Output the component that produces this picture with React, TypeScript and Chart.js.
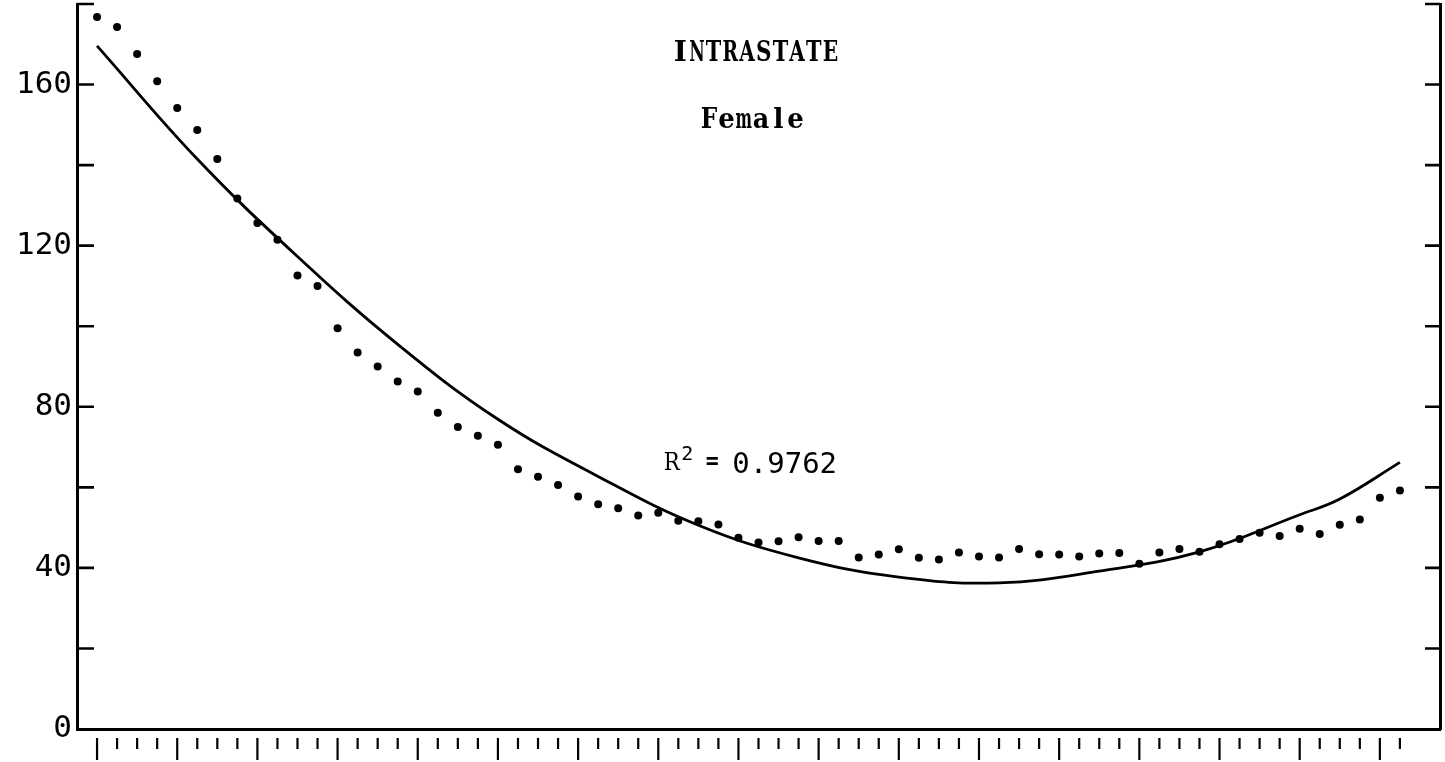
import React, { useEffect, useRef } from 'react';
import { Chart, registerables } from 'chart.js';

Chart.register(...registerables);

// Observed values, one per step along the horizontal axis (0..65)
const OBSERVED = [
  176.8, 174.3, 167.6, 160.8, 154.2, 148.7, 141.5, 131.7, 125.6, 121.5,
  112.6, 110.0, 99.5, 93.5, 90.0, 86.3, 83.8, 78.5, 75.0, 72.8,
  70.6, 64.5, 62.6, 60.6, 57.7, 55.8, 54.8, 53.0, 53.7, 51.7,
  51.6, 50.8, 47.5, 46.3, 46.6, 47.6, 46.7, 46.7, 42.6, 43.3,
  44.6, 42.5, 42.1, 43.8, 42.8, 42.6, 44.7, 43.4, 43.3, 42.8,
  43.6, 43.7, 41.0, 43.8, 44.7, 44.0, 45.9, 47.2, 48.7, 47.9,
  49.7, 48.4, 50.7, 52.0, 57.4, 59.2,
];

// Fitted regression curve, sampled along the same axis
const FIT_STEP = [0, 5, 10, 15, 20, 25, 30, 35, 40, 45, 50, 55, 60, 62, 65];
const FIT_VALUE = [169.6, 141.5, 117.3, 95.5, 76.9, 62.7, 50.6, 42.5, 37.7, 36.3, 39.2, 44.0, 53.2, 57.1, 66.2];

const Y_LABELS = [0, 40, 80, 120, 160];
const Y_MAX = 180;
const Y_STEP = 20;

const TITLE = 'INTRASTATE';
const SUBTITLE = 'Female';
const R_SQUARED = '0.9762';

const SLAB = '"DejaVu Serif", serif';
const GOTHIC = '"DejaVu Sans Mono", monospace';

// typewriter-style text: every character sits in a cell of the same width
function typed(
  ctx: CanvasRenderingContext2D,
  text: string,
  centerX: number,
  baseY: number,
  cell: number,
  maxGlyph: number,
  font: string,
) {
  ctx.save();
  ctx.font = font;
  ctx.textAlign = 'center';
  ctx.textBaseline = 'alphabetic';
  const startX = centerX - (text.length * cell) / 2;
  for (let i = 0; i < text.length; i++) {
    const ch = text[i];
    const w = ctx.measureText(ch).width;
    const k = Math.min(1, maxGlyph / w);
    ctx.save();
    ctx.translate(startX + cell * (i + 0.5), baseY);
    ctx.scale(k, 1);
    ctx.fillText(ch, 0, 0);
    ctx.restore();
  }
  ctx.restore();
}

const decorations = {
  id: 'decorations',
  afterDraw(chart: any) {
    const { ctx, chartArea } = chart;
    const { left, right, top, bottom } = chartArea;
    const xs = chart.scales.x;
    const ys = chart.scales.y;
    ctx.save();
    ctx.strokeStyle = '#000';
    ctx.fillStyle = '#000';

    // tick marks hanging below the horizontal axis, longer every fourth step
    ctx.lineWidth = 2.2;
    for (let i = 0; i < OBSERVED.length; i++) {
      const px = xs.getPixelForValue(i);
      const long = i % 4 === 0;
      ctx.beginPath();
      ctx.moveTo(px, bottom + 9);
      ctx.lineTo(px, bottom + (long ? 31 : 20));
      ctx.stroke();
    }

    // inward ticks on both vertical axes
    ctx.lineWidth = 2.6;
    for (let v = Y_STEP; v <= Y_MAX; v += Y_STEP) {
      const py = ys.getPixelForValue(v);
      ctx.beginPath();
      ctx.moveTo(left, py);
      ctx.lineTo(left + 17, py);
      ctx.moveTo(right - 15, py);
      ctx.lineTo(right, py);
      ctx.stroke();
    }

    // headings
    const cx = left + (right - left) * 0.4955;
    typed(ctx, TITLE, cx + 3, top + 57, 16.7, 15.5, `bold 28px ${SLAB}`);
    typed(ctx, SUBTITLE, cx, top + 124, 17.3, 16.5, `bold 27px ${SLAB}`);

    // coefficient of determination
    const rx = xs.getPixelForValue(28.25);
    const ry = ys.getPixelForValue(64.3);
    typed(ctx, 'R', rx + 8.5, ry, 17, 16, `25px ${SLAB}`);
    ctx.font = `20px ${GOTHIC}`;
    ctx.textAlign = 'left';
    ctx.fillText('2', rx + 18, ry - 10);
    typed(ctx, '=', rx + 49, ry - 1, 17, 15, `bold 25px ${SLAB}`);
    ctx.font = `29px ${GOTHIC}`;
    ctx.textAlign = 'left';
    ctx.fillText(R_SQUARED, rx + 69, ry + 3);

    ctx.restore();
  },
};

export default function App() {
  const canvasRef = useRef<HTMLCanvasElement | null>(null);

  useEffect(() => {
    const canvas = canvasRef.current;
    if (!canvas) return;
    const chart = new Chart(canvas, {
      type: 'scatter',
      data: {
        datasets: [
          {
            type: 'scatter',
            data: OBSERVED.map((y, i) => ({ x: i, y })),
            pointRadius: 4,
            pointHoverRadius: 4,
            pointBackgroundColor: '#000',
            pointBorderWidth: 0,
          },
          {
            type: 'line',
            data: FIT_STEP.map((x, k) => ({ x, y: FIT_VALUE[k] })),
            borderColor: '#000',
            borderWidth: 2.8,
            pointRadius: 0,
            tension: 0.4,
            fill: false,
          },
        ],
      } as any,
      options: {
        animation: false,
        responsive: false,
        maintainAspectRatio: false,
        events: [],
        layout: { padding: { top: 3, left: 0, right: 0, bottom: 0 } },
        plugins: {
          legend: { display: false },
          tooltip: { enabled: false },
          title: { display: false },
        },
        scales: {
          x: {
            type: 'linear',
            min: -1,
            max: 67,
            grid: { display: false, drawTicks: false },
            border: { display: true, color: '#000', width: 3 },
            ticks: { display: false },
            afterFit: (s: any) => {
              s.height = 33;
              s.paddingLeft = 0;
              s.paddingRight = 0;
            },
          },
          y: {
            position: 'left',
            min: 0,
            max: Y_MAX,
            grid: { display: false, drawTicks: false },
            border: { display: true, color: '#000', width: 3 },
            ticks: {
              stepSize: Y_STEP,
              padding: 5,
              color: '#000',
              font: { family: GOTHIC, size: 31 },
              callback: (v: any) => (Y_LABELS.includes(Number(v)) ? String(v) : ''),
            },
            afterFit: (s: any) => {
              s.width = 77;
              s.paddingTop = 0;
              s.paddingBottom = 0;
            },
          },
          yRight: {
            position: 'right',
            min: 0,
            max: Y_MAX,
            grid: { display: false, drawTicks: false },
            border: { display: true, color: '#000', width: 3 },
            ticks: { display: false, stepSize: Y_STEP },
            afterFit: (s: any) => {
              s.width = 5;
              s.paddingTop = 0;
              s.paddingBottom = 0;
            },
          },
        },
      } as any,
      plugins: [decorations],
    });
    return () => chart.destroy();
  }, []);

  return (
    <div style={{ position: 'fixed', left: 0, top: 0, width: 1445, height: 762, background: '#fff' }}>
      <canvas ref={canvasRef} width={1445} height={762} style={{ display: 'block' }} />
    </div>
  );
}
